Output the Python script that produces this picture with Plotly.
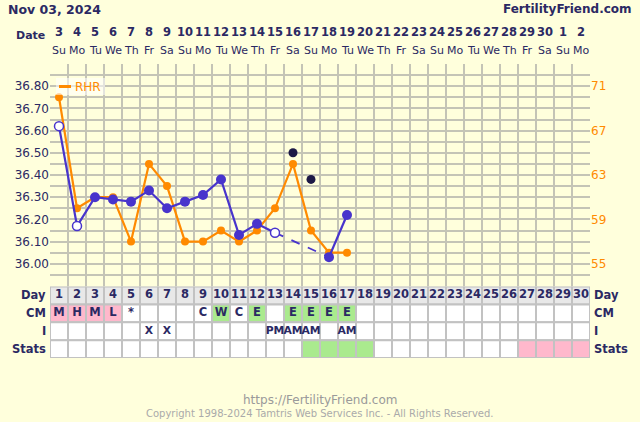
import plotly.graph_objects as go

# ---------------- data ----------------
days = list(range(1, 31))
date_labels = ["3", "4", "5", "6", "7", "8", "9", "10", "11", "12", "13", "14", "15", "16", "17",
               "18", "19", "20", "21", "22", "23", "24", "25", "26", "27", "28", "29", "30", "1", "2"]
weekday_labels = ["Su", "Mo", "Tu", "We", "Th", "Fr", "Sa"] * 4 + ["Su", "Mo"]

temp_days = list(range(1, 18))
temps = [36.62, 36.17, 36.30, 36.29, 36.28, 36.33, 36.25, 36.28, 36.31, 36.38,
         36.13, 36.18, 36.14, 36.50, 36.38, 36.03, 36.22]
# "open" = open circle, "disc" = discarded temperature, "" = normal
temp_flags = ["open", "open", "", "", "", "", "", "", "", "",
              "", "", "open", "disc", "disc", "", ""]

rhr = [70, 60, 61, 61, 57, 64, 62, 57, 57, 58, 57, 58, 60, 64, 58, 56, 56]

cm = ["M", "H", "M", "L", "*", "", "", "", "C", "W", "C", "E", "", "E", "E", "E", "E"] + [""] * 13
intercourse = ["", "", "", "", "", "X", "X", "", "", "", "", "", "PM", "AM", "AM", "", "AM"] + [""] * 13
stats = [""] * 14 + ["F", "F", "F", "F"] + [""] * 8 + ["P", "P", "P", "P"]

temp_ticks = [36.0, 36.1, 36.2, 36.3, 36.4, 36.5, 36.6, 36.7, 36.8]
rhr_ticks = [55, 59, 63, 67, 71]
row_names = ["Day", "CM", "I", "Stats"]

# ---------------- styles ----------------
NAVY = "#2b2963"
BLUE = "#4834cc"
DARK = "#1d1946"
ORANGE = "#ff8a00"
BG = "#ffffdc"
GRID = "#c4c4b6"
PINK = "#ffb8cc"
GREEN = "#aaea8e"
DAYBG = "#e8e8e8"
CELL_LINE = "#c2c2c2"
FONT = "DejaVu Sans"

cm_color = {"M": PINK, "H": PINK, "L": PINK, "W": GREEN, "E": GREEN}
stats_color = {"F": GREEN, "P": PINK}
row_font_sizes = [11.5, 11.5, 10.8]

T, B = 64, 64
H = 422
PH = H - T - B


def py(p):
    return (H - B - p) / PH


def px(p):
    return (p - 50) / 540


fig = go.Figure()

# orange RHR (primary y axis, drawn beneath temperature layer)
fig.add_trace(go.Scatter(x=temp_days, y=rhr, yaxis="y", mode="lines+markers",
                         line=dict(color=ORANGE, width=2.2),
                         marker=dict(color=ORANGE, size=8), hoverinfo="skip"))

# blue temperature solid line (breaks where discarded)
solid_y = [None if f == "disc" else t for t, f in zip(temps, temp_flags)]
fig.add_trace(go.Scatter(x=temp_days, y=solid_y, yaxis="y2", mode="lines", connectgaps=False,
                         line=dict(color=BLUE, width=2.2), hoverinfo="skip"))
# dashed bridge across discarded temps
kept = [i for i, f in enumerate(temp_flags) if f != "disc"]
for a, b in zip(kept[:-1], kept[1:]):
    if b - a > 1:
        fig.add_trace(go.Scatter(x=[temp_days[a], temp_days[b]], y=[temps[a], temps[b]], yaxis="y2",
                                 mode="lines", line=dict(color=BLUE, width=1.8, dash="dash"),
                                 hoverinfo="skip"))
# filled markers
fx = [d for d, f in zip(temp_days, temp_flags) if f == ""]
fy = [t for t, f in zip(temps, temp_flags) if f == ""]
fig.add_trace(go.Scatter(x=fx, y=fy, yaxis="y2", mode="markers", marker=dict(color=BLUE, size=10),
                         hoverinfo="skip"))
# open markers
ox = [d for d, f in zip(temp_days, temp_flags) if f == "open"]
oy = [t for t, f in zip(temps, temp_flags) if f == "open"]
fig.add_trace(go.Scatter(x=ox, y=oy, yaxis="y2", mode="markers",
                         marker=dict(color="white", size=9, line=dict(color=BLUE, width=1.5)),
                         hoverinfo="skip"))
# discarded markers
dx = [d for d, f in zip(temp_days, temp_flags) if f == "disc"]
dy = [t for t, f in zip(temps, temp_flags) if f == "disc"]
fig.add_trace(go.Scatter(x=dx, y=dy, yaxis="y2", mode="markers", marker=dict(color=DARK, size=9),
                         hoverinfo="skip"))

# ---------------- table ----------------
shapes = []
for i, d in enumerate(days):
    fills = [DAYBG, cm_color.get(cm[i], "white"), "white", stats_color.get(stats[i], "white")]
    for r, fc in enumerate(fills):
        shapes.append(dict(type="rect", xref="x", yref="y3", x0=d - 0.5, x1=d + 0.5, y0=r, y1=r + 1,
                           fillcolor=fc, line=dict(color=CELL_LINE, width=2), layer="between"))

for r, labels in enumerate([[str(d) for d in days], cm, intercourse]):
    fig.add_trace(go.Scatter(x=days, y=[r + 0.5] * 30, yaxis="y3", mode="text", text=labels,
                             textfont=dict(family=FONT, size=row_font_sizes[r], color=NAVY, weight="bold"),
                             textposition="middle center", hoverinfo="skip", cliponaxis=False))

annotations = []
for r, name in enumerate(row_names):
    yy = py(286.5 + 17.8 * (r + 0.5))
    annotations.append(dict(text="<b>%s</b>" % name, xref="paper", yref="paper", x=px(48), y=yy,
                            xanchor="right", yanchor="middle", showarrow=False,
                            font=dict(family=FONT, size=11.5, color=NAVY)))
    annotations.append(dict(text="<b>%s</b>" % name, xref="paper", yref="paper", x=px(591.5), y=yy,
                            xanchor="left", yanchor="middle", showarrow=False,
                            font=dict(family=FONT, size=11.5, color=NAVY)))

# header dates
for d, dl, wl in zip(days, date_labels, weekday_labels):
    annotations.append(dict(text="<b>%s</b>" % dl, xref="x", yref="paper", x=d, y=py(32.5),
                            xanchor="center", yanchor="middle", showarrow=False,
                            font=dict(family=FONT, size=11.5, color=NAVY)))
    annotations.append(dict(text=wl, xref="x", yref="paper", x=d, y=py(50.5),
                            xanchor="center", yanchor="middle", showarrow=False,
                            font=dict(family=FONT, size=11, color=NAVY)))
annotations.append(dict(text="<b>Date</b>", xref="paper", yref="paper", x=px(46.5), y=py(35.5),
                        xanchor="right", yanchor="middle", showarrow=False,
                        font=dict(family=FONT, size=11, color=NAVY)))
annotations.append(dict(text="<b>Nov 03, 2024</b>", xref="paper", yref="paper", x=px(6), y=py(9.5),
                        xanchor="left", yanchor="middle", showarrow=False,
                        font=dict(family=FONT, size=12.5, color=NAVY)))
annotations.append(dict(text="<b>FertilityFriend.com</b>", xref="paper", yref="paper", x=px(634), y=py(9.5),
                        xanchor="right", yanchor="middle", showarrow=False,
                        font=dict(family=FONT, size=12, color=NAVY)))
# footer
annotations.append(dict(text="https://FertilityFriend.com", xref="paper", yref="paper", x=px(320), y=py(400),
                        xanchor="center", yanchor="middle", showarrow=False,
                        font=dict(family=FONT, size=12, color="#9a9a9a")))
annotations.append(dict(text="Copyright 1998-2024 Tamtris Web Services Inc. - All Rights Reserved.",
                        xref="paper", yref="paper", x=px(320), y=py(413.5),
                        xanchor="center", yanchor="middle", showarrow=False,
                        font=dict(family=FONT, size=10, color="#aaaaaa")))

# legend (manual)
shapes.append(dict(type="rect", xref="paper", yref="paper", x0=px(56), x1=px(105), y0=py(95), y1=py(78),
                   fillcolor="rgba(255,255,255,0.55)", line=dict(width=0), layer="above"))
shapes.append(dict(type="line", xref="paper", yref="paper", x0=px(59), x1=px(71), y0=py(86.5), y1=py(86.5),
                   line=dict(color=ORANGE, width=3), layer="above"))
annotations.append(dict(text="RHR", xref="paper", yref="paper", x=px(72.5), y=py(86.5),
                        xanchor="left", yanchor="middle", showarrow=False,
                        font=dict(family=FONT, size=12, color=ORANGE)))

fig.update_layout(
    width=640, height=422,
    margin=dict(l=50, r=50, t=T, b=B),
    paper_bgcolor=BG, plot_bgcolor=BG,
    showlegend=False,
    font=dict(family=FONT, color=NAVY),
    shapes=shapes, annotations=annotations,
    xaxis=dict(range=[0.5, 30.5], tickvals=[d - 0.5 for d in days] + [30.5], showticklabels=False,
               ticks="", showgrid=True, gridcolor=GRID, gridwidth=2, zeroline=False, showline=False,
               anchor="y", fixedrange=True),
    # RHR axis (right) carries the grid
    yaxis=dict(domain=[py(286), 1], side="right", range=[53, 73], tickvals=rhr_ticks,
               tickfont=dict(family=FONT, size=12, color=ORANGE),
               showgrid=True, gridcolor=GRID, gridwidth=2, zeroline=False, showline=False, ticks="",
               minor=dict(tick0=53, dtick=1, showgrid=True, gridcolor=GRID, gridwidth=2),
               fixedrange=True),
    # temperature axis (left)
    yaxis2=dict(overlaying="y", side="left", range=[35.9, 36.9], tickvals=temp_ticks,
                ticktext=["%.2f" % v for v in temp_ticks], tickfont=dict(family=FONT, size=12, color=NAVY),
                showgrid=False, zeroline=False, ticks="", fixedrange=True),
    yaxis3=dict(domain=[0, py(286.5)], range=[4, 0], visible=False, anchor="x", fixedrange=True),
)

fig.write_html("out.html")
